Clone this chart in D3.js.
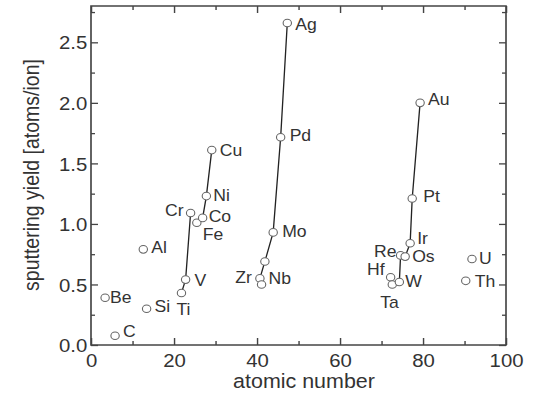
<!DOCTYPE html>
<html>
<head>
<meta charset="utf-8">
<script src="https://cdn.jsdelivr.net/npm/d3@7"></script>
<style>
  html, body { margin: 0; padding: 0; background: #fff; }
  svg { display: block; }
  text { font-family: 'Liberation Sans', Arial, sans-serif; fill: #333; }
</style>
</head>
<body>
<div id="chart"></div>
<script>
// elements (atomic number position, yield)
const elements = ['Be', 'C', 'Al', 'Si', 'Ti', 'V', 'Cr', 'Fe', 'Co', 'Ni', 'Cu',
  'Zr', 'Nb', '', 'Mo', 'Pd', 'Ag',
  'Hf', 'Ta', 'W', 'Re', 'Os', 'Ir', 'Pt', 'Au', 'Th', 'U']
const atomicNumber = [3.4, 5.8, 12.6, 13.4, 21.8, 22.8, 24.0, 25.5, 26.9, 27.8, 29.1,
  40.7, 41.1, 41.9, 43.9, 45.7, 47.3,
  72.2, 72.6, 74.3, 74.6, 75.7, 76.9, 77.4, 79.3, 90.3, 91.8]
const yieldValues = [0.39, 0.077, 0.79, 0.30, 0.43, 0.54, 1.09, 1.01, 1.05, 1.23, 1.61,
  0.55, 0.50, 0.69, 0.93, 1.716, 2.66,
  0.56, 0.50, 0.52, 0.74, 0.73, 0.84, 1.21, 2.00, 0.53, 0.71]

// connected series (indices into the arrays above)
const lineGroups = [
  [4, 5, 6],
  [7, 8, 9, 10],
  [11, 13, 14, 15, 16],
  [19, 20, 21, 22, 23, 24]
]

const xTicks = [0, 20, 40, 60, 80, 100]
const xMinor = [10, 30, 50, 70, 90]
const yTicks = [0, 0.5, 1.0, 1.5, 2.0, 2.5]
const yMinor = [0.25, 0.75, 1.25, 1.75, 2.25, 2.75]

// label placement: [anchor, dx px, dy px]
const labelPos = {
  Be: ['start', 5, 0], C: ['start', 8, -4], Al: ['start', 8, -2], Si: ['start', 8, -2],
  Ti: ['start', -5, 17], V: ['start', 9, 1], Cr: ['end', -7, -2], Fe: ['start', 6, 12],
  Co: ['start', 6, -1], Ni: ['start', 7, 0], Cu: ['start', 8, 1],
  Zr: ['end', -8, -1], Nb: ['start', 7, -6], Mo: ['start', 9, -1], Pd: ['start', 9, -1],
  Ag: ['start', 8, 2], Hf: ['end', -6, -7], Ta: ['start', -12, 18], W: ['start', 6, 0],
  Re: ['end', -4, -4], Os: ['start', 7, 0], Ir: ['start', 7, -5], Pt: ['start', 11, -1.5],
  Au: ['start', 8, -3], Th: ['start', 9, 1], U: ['start', 7, 0]
}

const W = 544, H = 394
const SX = 1.1  // the figure is a little wider than tall glyphs suggest
const IW = W / SX

const svg = d3.select('#chart').append('svg')
  .attr('width', W)
  .attr('height', H)
  .attr('viewBox', `0 0 ${IW} ${H}`)
  .attr('preserveAspectRatio', 'none')

const x = d3.scaleLinear().domain([0, 100]).range([91 / SX, 506 / SX])
const y = d3.scaleLinear().domain([0, 2.8]).range([345, 6])

const axisColor = '#444'

function styleAxis(g) {
  g.select('.domain').remove()
  g.selectAll('line').attr('stroke', axisColor).attr('stroke-width', 1.3)
}

// bottom
svg.append('g')
  .attr('transform', `translate(0,${y(0)})`)
  .call(d3.axisBottom(x).tickValues(xTicks).tickSize(-7).tickFormat(d3.format('d')))
  .call(styleAxis)
  .call(g => g.selectAll('text')
    .attr('y', 22).attr('dy', null)
    .style('font-size', '18.5px').attr('fill', '#333'))
svg.append('g')
  .attr('transform', `translate(0,${y(0)})`)
  .call(d3.axisBottom(x).tickValues(xMinor).tickSize(-4).tickFormat(''))
  .call(styleAxis)

// top
svg.append('g')
  .attr('transform', `translate(0,${y(2.8)})`)
  .call(d3.axisTop(x).tickValues(xTicks).tickSize(-7).tickFormat(''))
  .call(styleAxis)
svg.append('g')
  .attr('transform', `translate(0,${y(2.8)})`)
  .call(d3.axisTop(x).tickValues(xMinor).tickSize(-4).tickFormat(''))
  .call(styleAxis)

// left
svg.append('g')
  .attr('transform', `translate(${x(0)},0)`)
  .call(d3.axisLeft(y).tickValues(yTicks).tickSize(-7 / SX).tickPadding(3.4).tickFormat(d3.format('.1f')))
  .call(styleAxis)
  .call(g => g.selectAll('text')
    .attr('x', -3.4).attr('dy', '0.36em')
    .style('font-size', '18.5px').attr('fill', '#333'))
svg.append('g')
  .attr('transform', `translate(${x(0)},0)`)
  .call(d3.axisLeft(y).tickValues(yMinor).tickSize(-4 / SX).tickFormat(''))
  .call(styleAxis)

// right
svg.append('g')
  .attr('transform', `translate(${x(100)},0)`)
  .call(d3.axisRight(y).tickValues(yTicks).tickSize(-7 / SX).tickFormat(''))
  .call(styleAxis)
svg.append('g')
  .attr('transform', `translate(${x(100)},0)`)
  .call(d3.axisRight(y).tickValues(yMinor).tickSize(-4 / SX).tickFormat(''))
  .call(styleAxis)

// frame
svg.append('rect')
  .attr('x', x(0)).attr('y', y(2.8))
  .attr('width', x(100) - x(0)).attr('height', y(0) - y(2.8))
  .attr('fill', 'none').attr('stroke', axisColor).attr('stroke-width', 1.5)

// axis titles
svg.append('text')
  .attr('x', 304 / SX).attr('y', 388)
  .attr('text-anchor', 'middle')
  .style('font-size', '19.5px')
  .text('atomic number')

svg.append('text')
  .attr('transform', `translate(${31 / SX},${175}) rotate(-90)`)
  .attr('text-anchor', 'middle')
  .attr('dominant-baseline', 'central')
  .style('font-size', '19.5px')
  .text('sputtering yield [atoms/ion]')

// connecting lines
const line = d3.line()
  .x(i => x(atomicNumber[i]))
  .y(i => y(yieldValues[i]))

svg.append('g').selectAll('path')
  .data(lineGroups)
  .join('path')
  .attr('d', line)
  .attr('fill', 'none')
  .attr('stroke', '#222')
  .attr('stroke-width', 1.2)

// points
const idx = d3.range(elements.length)
svg.append('g').selectAll('circle')
  .data(idx)
  .join('circle')
  .attr('cx', i => x(atomicNumber[i]))
  .attr('cy', i => y(yieldValues[i]))
  .attr('r', 3.8)
  .attr('fill', '#fff')
  .attr('stroke', '#666')
  .attr('stroke-width', 1)

// labels
svg.append('g').selectAll('text')
  .data(idx.filter(i => elements[i]))
  .join('text')
  .attr('x', i => x(atomicNumber[i]) + labelPos[elements[i]][1] / SX)
  .attr('y', i => y(yieldValues[i]) + labelPos[elements[i]][2])
  .attr('text-anchor', i => labelPos[elements[i]][0])
  .attr('dominant-baseline', 'central')
  .style('font-size', '16px')
  .text(i => elements[i])
</script>
</body>
</html>
